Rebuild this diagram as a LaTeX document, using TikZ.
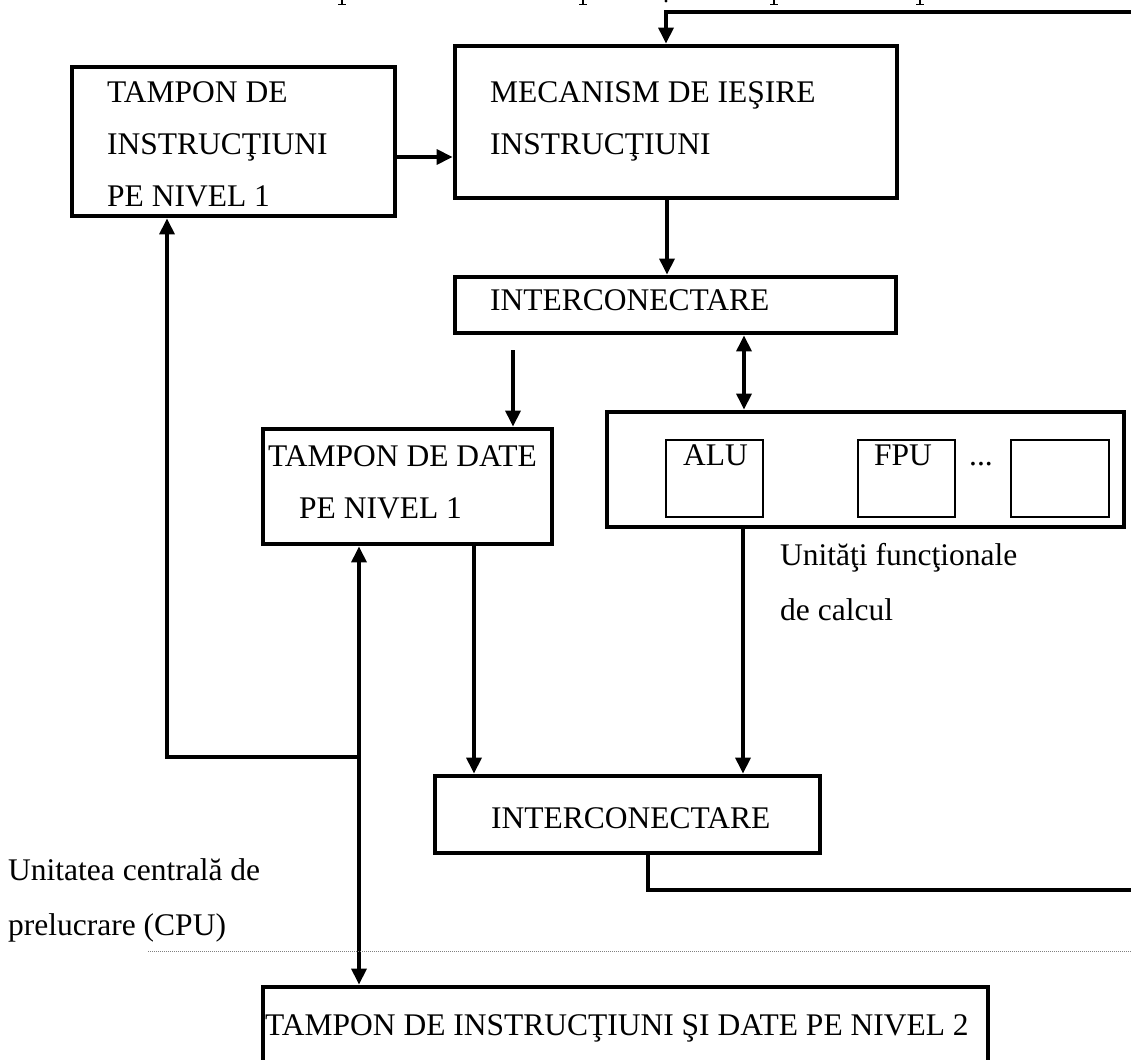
\documentclass[tikz,border=0pt]{standalone}
\usepackage{fontspec}
\setmainfont{Liberation Serif}
\usetikzlibrary{arrows.meta}
\begin{document}
\begin{tikzpicture}[x=1pt,y=-1pt,
  box/.style={draw, line width=4.8pt, inner sep=0pt},
  unitbox/.style={draw, line width=2pt, inner sep=0pt, minimum width=97pt, minimum height=77pt},
  lbl/.style={anchor=base west, inner sep=0pt, font=\fontsize{31.5}{36}\selectfont},
  link/.style={line width=3.3pt, -{Triangle[length=16pt,width=15pt]}},
  both/.style={line width=3.3pt, {Triangle[length=16pt,width=15pt]}-{Triangle[length=16pt,width=15pt]}},
  wire/.style={line width=3.3pt},
  sep/.style={draw=gray, line width=1pt, dash pattern=on 1pt off 1pt},
  stub/.style={line width=2.4pt},
]
\useasboundingbox (0,0) rectangle (1131,1059);
\begin{scope}
\clip (0,0) rectangle (1131,1059);

% tails of the caption line that runs above the top edge
\foreach \px in {342, 583, 774, 920} {
  \draw[stub] (\px,0) -- (\px,4.5);
  \draw[line width=1.4pt] (\px-4,4.6) -- (\px+4,4.6);
}
\fill (666,1) circle (1.6pt);

% main blocks
\node[box, minimum width=323pt, minimum height=149pt] (ti)   at (233.5,141.5) {};
\node[box, minimum width=442pt, minimum height=152pt] (mec)  at (676,122) {};
\node[box, minimum width=441pt, minimum height=56pt]  (int1) at (675.5,305) {};
\node[box, minimum width=289pt, minimum height=115pt] (data) at (407.5,486.5) {};
\node[box, minimum width=517pt, minimum height=115pt] (fu)   at (865.5,469.5) {};
\node[box, minimum width=385pt, minimum height=77pt]  (int2) at (627.5,814.5) {};
\node[box, minimum width=725pt, minimum height=93pt]  (l2)   at (625.5,1033.5) {};

% functional units
\node[unitbox] (alu) at (714.5,478.5) {};
\node[unitbox] (fpu) at (906.5,478.5) {};
\node[unitbox, minimum width=98pt] (fux) at (1060,478.5) {};

% texts
\node[lbl] (t1) at (107,103) {TAMPON DE};
\node[lbl] (t2) at (107,155) {INSTRUCŢIUNI};
\node[lbl] (t3) at (107,207) {PE NIVEL 1};
\node[lbl] (m1) at (490,103) {MECANISM DE IEŞIRE};
\node[lbl] (m2) at (490,155) {INSTRUCŢIUNI};
\node[lbl] (i1) at (490,310) {INTERCONECTARE};
\node[lbl] (d1) at (268,466) {TAMPON DE DATE};
\node[lbl] (d2) at (299,518) {PE NIVEL 1};
\node[lbl] (a1) at (683,465) {ALU};
\node[lbl] (f1) at (874,465) {FPU};
\node[lbl, anchor=base] (dots) at (981,465) {...};
\node[lbl] (u1) at (780,565) {Unităţi funcţionale};
\node[lbl] (u2) at (780,620) {de calcul};
\node[lbl] (i2) at (491,828) {INTERCONECTARE};
\node[lbl] (c1) at (8,880) {Unitatea centrală de};
\node[lbl] (c2) at (8,935) {prelucrare (CPU)};
\node[lbl] (l2t) at (265,1035) {TAMPON DE INSTRUCŢIUNI ŞI DATE PE NIVEL 2};

% reference columns and rows
\coordinate (r157) at (0,157);
\coordinate (x167) at (167,0);
\coordinate (x359) at (359,0);
\coordinate (x474) at (474,0);
\coordinate (x648) at (648,0);
\coordinate (x666) at (666,0);
\coordinate (x667) at (667,0);
\coordinate (x743) at (743,0);
\coordinate (x744) at (744,0);
\coordinate (topin) at (1131,12);
\coordinate (dstart) at (513,350);
\coordinate (jn) at (359,757);
\coordinate (botout) at (1131,890);
\coordinate (dl) at (148,951);
\coordinate (dr) at (1131,951);

% connectors
\draw[link] (ti.east |- r157) -- (mec.west |- r157);
\draw[link] (topin) -- (x666 |- topin) -- (mec.north -| x666);
\draw[link] (mec.south -| x667) -- (int1.north -| x667);
\draw[link] (dstart) -- (data.north -| dstart);
\draw[both] (int1.south -| x744) -- (fu.north -| x744);
\draw[link] (fu.south -| x743) -- (int2.north -| x743);
\draw[link] (data.south -| x474) -- (int2.north -| x474);
\draw[both] (data.south -| x359) -- (l2.north -| x359);
\draw[link] (jn) -- (x167 |- jn) -- (ti.south -| x167);
\draw[wire] (int2.south -| x648) -- (x648 |- botout) -- (botout);

% CPU boundary
\draw[sep] (dl) -- (dr);
\end{scope}
\end{tikzpicture}
\end{document}
